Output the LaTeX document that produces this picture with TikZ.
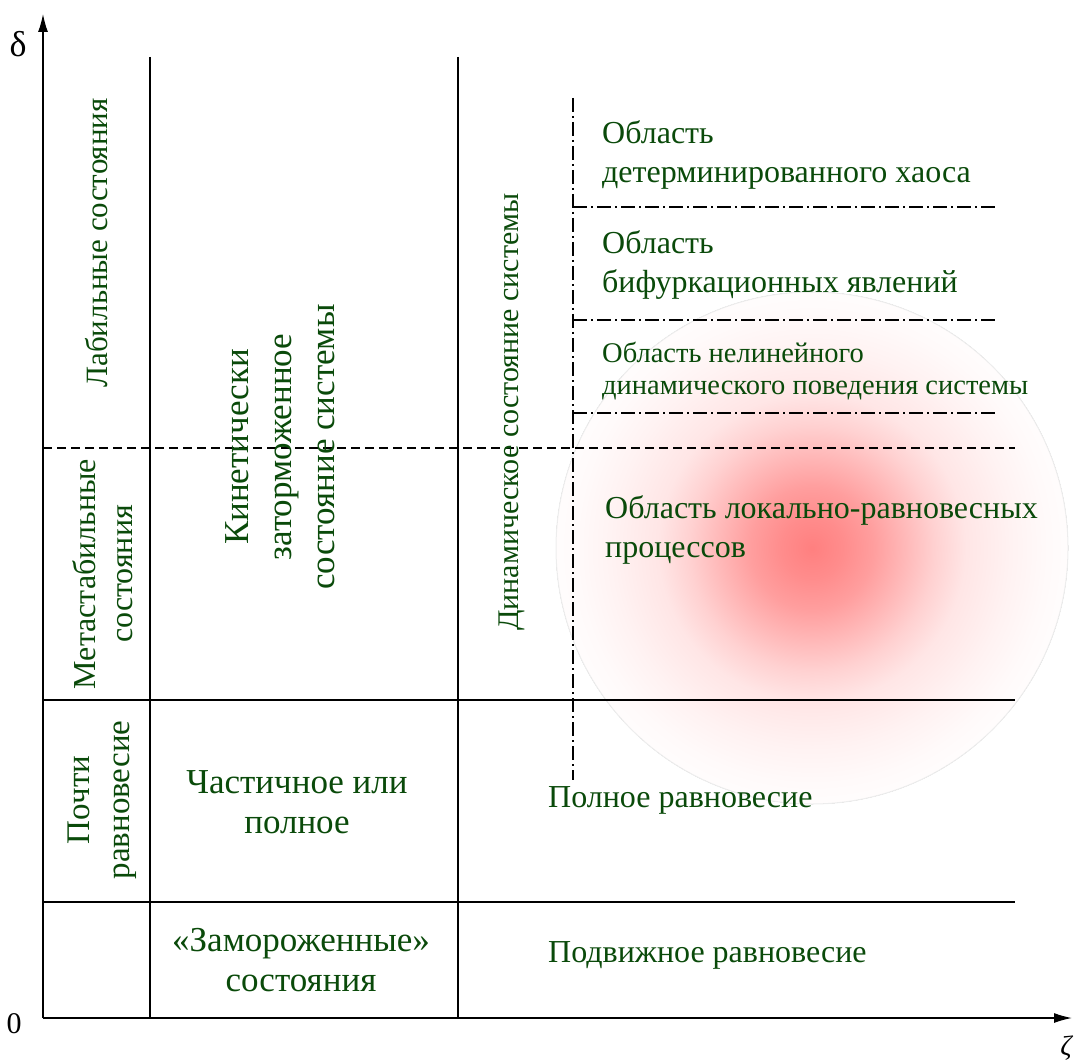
\documentclass[tikz,border=0pt]{standalone}
\usepackage{fontspec}
\setmainfont{Liberation Serif}
\usetikzlibrary{arrows.meta}
\definecolor{tg}{HTML}{0A4A0A}
\pgfdeclareradialshading{glow}{\pgfpoint{0bp}{0bp}}{color(0bp)=(red!50);color(3bp)=(red!45);color(6bp)=(red!38);color(9bp)=(red!28);color(12bp)=(red!18);color(15bp)=(red!10);color(19.5bp)=(red!5);color(23bp)=(red!2);color(25bp)=(red!1);color(50bp)=(white)}
\begin{document}
\begin{tikzpicture}[x=1pt,y=-1pt,
  lab/.style={text=tg, font=\fontsize{32}{39}\selectfont, align=center, inner sep=0pt},
  labs/.style={text=tg, font=\fontsize{28.5}{32}\selectfont, align=left, inner sep=0pt},
  axlab/.style={font=\fontsize{36}{40}\selectfont, inner sep=0pt},
  solidline/.style={line width=1.6pt},
  dashline/.style={line width=1.5pt, dash pattern=on 9pt off 5pt},
  dashdot/.style={line width=1.3pt, dash pattern=on 14pt off 4pt on 2pt off 4pt},
  axis/.style={line width=1.4pt, -{Latex[length=18pt,width=10pt]}}]
\useasboundingbox (0,0) rectangle (1078,1064);
% glow
\fill[shading=glow] (812,548) circle (256pt);
\draw[black!7, line width=1pt] (812,548) circle (256pt);
% coordinates
\coordinate (o) at (43,1018);
\coordinate (ytop) at (43,14);
\coordinate (xend) at (1072,1018);
% grid lines
\draw[solidline] (150,57) coordinate (v1t) -- (150,1018) coordinate (v1b);
\draw[solidline] (458,57) coordinate (v2t) -- (458,1018) coordinate (v2b);
\draw[solidline] (43,700) coordinate (h1l) -- (1015,700) coordinate (h1r);
\draw[solidline] (43,902) coordinate (h2l) -- (1015,902) coordinate (h2r);
\draw[dashline] (43,448) coordinate (dl) -- (1015,448) coordinate (dr);
\draw[dashdot] (573,98) coordinate (ddt) -- (573,780) coordinate (ddb);
\draw[dashdot] (573,207) coordinate (a1) -- (995,207) coordinate (a2);
\draw[dashdot] (573,320) coordinate (b1) -- (995,320) coordinate (b2);
\draw[dashdot] (573,413) coordinate (c1) -- (995,413) coordinate (c2);
% axes
\draw[axis] (o) -- (ytop);
\draw[axis] (o) -- (xend);
\node[axlab] (delta) at (18,44) {δ};
\node[axlab, font=\fontsize{28}{32}\selectfont, anchor=north] (zeta) at (1066,1036) {\itshape ζ};
\node[axlab, font=\fontsize{30}{36}\selectfont] (zero) at (14,1024) {0};
% texts
\node[lab, anchor=west, align=left] (chaos) at (602,155) {Область\\детерминированного хаоса};
\node[lab, anchor=west, align=left] (bif) at (602,265) {Область\\бифуркационных явлений};
\node[labs, anchor=west] (nonlin) at (602,371) {Область нелинейного\\динамического поведения системы};
\node[lab, anchor=west, align=left] (local) at (605,530) {Область локально-равновесных\\процессов};
\node[lab, anchor=west] (full) at (548,800) {Полное равновесие};
\node[lab, anchor=west] (mob) at (548,955) {Подвижное равновесие};
\node[lab, font=\fontsize{35}{40}\selectfont] (part) at (297,802) {Частичное или\\полное};
\node[lab, font=\fontsize{35}{40}\selectfont] (frozen) at (301,960) {«Замороженные»\\состояния};
\node[lab, rotate=90, font=\fontsize{33}{40}\selectfont] (almost) at (102,800) {Почти\\равновесие};
\node[lab, rotate=90, font=\fontsize{32}{37}\selectfont] (meta) at (103,574) {Метастабильные\\состояния};
\node[lab, rotate=90, font=\fontsize{31}{37}\selectfont] (labile) at (97,243) {Лабильные состояния};
\node[lab, rotate=90, font=\fontsize{35}{43}\selectfont] (kin) at (280,447) {Кинетически\\заторможенное\\состояние системы};
\node[lab, rotate=90, font=\fontsize{30}{36}\selectfont] (dyn) at (512,412) {Динамическое состояние системы};
\end{tikzpicture}
\end{document}
